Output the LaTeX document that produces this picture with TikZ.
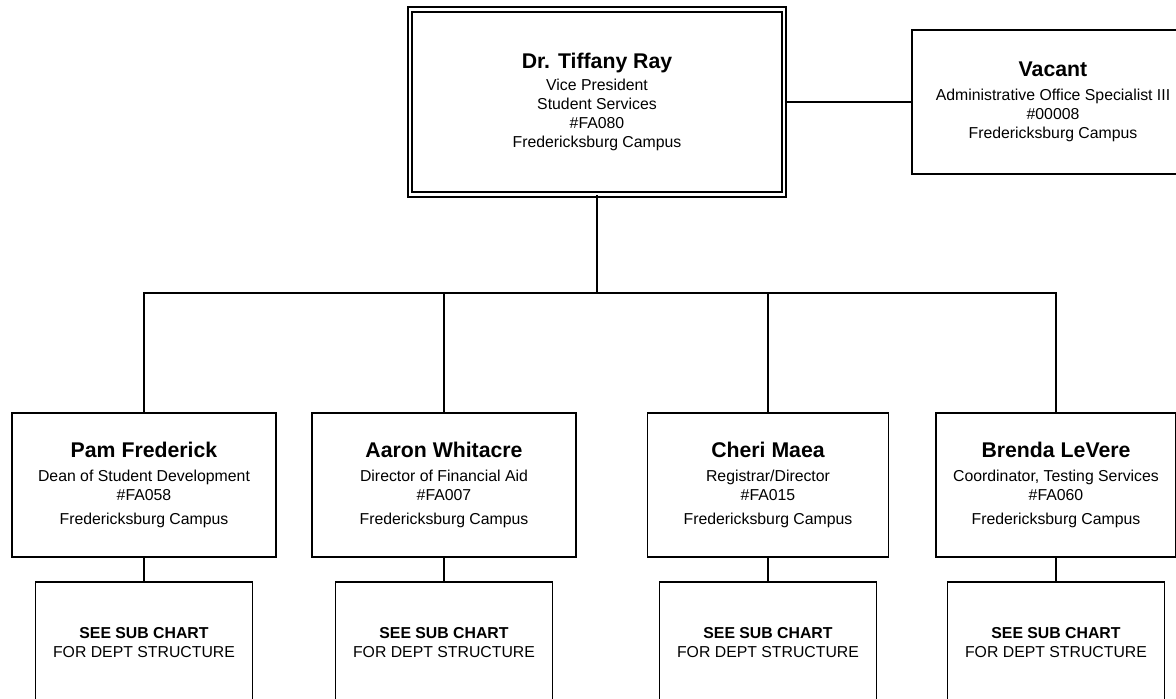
\documentclass[tikz,border=0pt]{standalone}
\usepackage{fontspec}
\setmainfont{Liberation Sans}
\newcommand{\namefont}{\fontsize{12.1}{14}\selectfont\bfseries}
\newcommand{\postfont}{\fontsize{9}{10.8}\selectfont}

\begin{document}
\begin{tikzpicture}[post/.style={draw, line width=1.1pt, inner sep=0pt, align=center, minimum height=2.88cm, font=\postfont}, subchart/.style={post, minimum width=4.34cm, minimum height=2.42cm}, link/.style={line width=1.1pt}]
	\useasboundingbox (0,0) rectangle (23.52,-13.98);
	\node[post, double, line width=1pt, double distance=1.6pt, minimum width=7.48cm, minimum height=3.7cm] (vp) at (11.94,-2.04) {{\namefont Dr. Tiffany Ray}\\[2pt] Vice President\\ Student Services\\ \#FA080\\ Fredericksburg Campus};
	\node[post, minimum width=5.64cm] (vacant) at (21.06,-2.04) {{\namefont Vacant}\\[3pt] Administrative Office Specialist III\\ \#00008\\ Fredericksburg Campus};
	\node[post, minimum width=5.28cm] (pam) at (2.88,-9.70) {{\namefont Pam Frederick}\\[2.9pt] Dean of Student Development\\ \#FA058\\[2.9pt] Fredericksburg Campus};
	\node[post, minimum width=5.28cm] (aaron) at (8.88,-9.70) {{\namefont Aaron Whitacre}\\[2.9pt] Director of Financial Aid\\ \#FA007\\[2.9pt] Fredericksburg Campus};
	\node[post, minimum width=4.82cm] (cheri) at (15.36,-9.70) {{\namefont Cheri Maea}\\[2.9pt] Registrar/Director\\ \#FA015\\[2.9pt] Fredericksburg Campus};
	\node[post, minimum width=4.80cm] (brenda) at (21.12,-9.70) {{\namefont Brenda LeVere}\\[2.9pt] Coordinator, Testing Services\\ \#FA060\\[2.9pt] Fredericksburg Campus};
	\node[subchart] (pamsub) at (2.88,-12.85) {{\bfseries SEE SUB CHART}\\ FOR DEPT STRUCTURE};
	\node[subchart] (aaronsub) at (8.88,-12.85) {{\bfseries SEE SUB CHART}\\ FOR DEPT STRUCTURE};
	\node[subchart] (cherisub) at (15.36,-12.85) {{\bfseries SEE SUB CHART}\\ FOR DEPT STRUCTURE};
	\node[subchart] (brendasub) at (21.12,-12.85) {{\bfseries SEE SUB CHART}\\ FOR DEPT STRUCTURE};
	\coordinate (bus) at (11.94,-5.86);
	\draw[link] (vp.east) -- (vacant.west);
	\draw[link] (vp.south) -- (bus);
	\draw[link] (pam.north) |- (bus) -| (brenda.north);
	\draw[link] (aaron.north) -- (aaron.north |- bus);
	\draw[link] (cheri.north) -- (cheri.north |- bus);
	\draw[link] (pam) -- (pamsub);
	\draw[link] (aaron) -- (aaronsub);
	\draw[link] (cheri) -- (cherisub);
	\draw[link] (brenda) -- (brendasub);
\end{tikzpicture}
\end{document}
